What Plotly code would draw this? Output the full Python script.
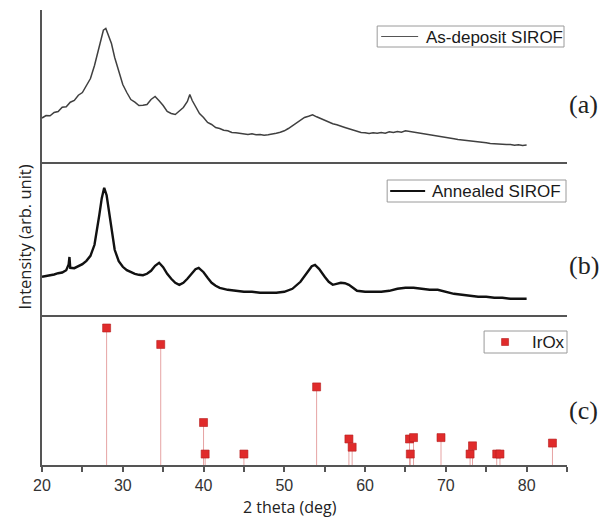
import plotly.graph_objects as go
from plotly.subplots import make_subplots

# ---- XRD data: 2-theta (deg) vs intensity (arb. counts) ----
asdep_theta = [20.0, 20.5, 21.0, 21.5, 22.0, 22.5, 23.0, 23.5, 24.0, 24.5, 25.0, 25.5, 26.0, 26.5,
               27.0, 27.3, 27.6, 27.9, 28.2, 28.6, 29.0, 29.5, 30.0, 30.5, 31.0, 31.5, 32.0, 32.5,
               33.0, 33.5, 34.0, 34.5, 35.0, 35.5, 36.0, 36.5, 37.0, 37.5, 38.0, 38.3, 38.6, 39.0,
               39.5, 40.0, 40.5, 41.0, 41.5, 42.0, 42.5, 43.0, 43.5, 44.0, 44.5, 45.0, 45.5, 46.0,
               46.5, 47.0, 47.5, 48.0, 48.5, 49.0, 49.5, 50.0, 50.5, 51.0, 51.5, 52.0, 52.5, 53.0,
               53.5, 54.0, 54.5, 55.0, 55.5, 56.0, 56.5, 57.0, 57.5, 58.0, 58.5, 59.0, 59.5, 60.0,
               60.5, 61.0, 61.5, 62.0, 62.5, 63.0, 63.5, 64.0, 64.5, 65.0, 65.5, 66.0, 66.5, 67.0,
               67.5, 68.0, 68.5, 69.0, 69.5, 70.0, 70.5, 71.0, 71.5, 72.0, 72.5, 73.0, 73.5, 74.0,
               74.5, 75.0, 75.5, 76.0, 76.5, 77.0, 77.5, 78.0, 78.5, 79.0, 79.5, 80.0]
asdep_counts = [440, 465, 462, 495, 505, 548, 552, 598, 615, 668, 695, 770, 835, 965,
                1115, 1225, 1318, 1335, 1265, 1185, 1045, 905, 775, 695, 625, 598, 565, 568,
                575, 625, 655, 612, 565, 505, 485, 475, 515, 545, 605, 675, 615, 555,
                485, 445, 395, 375, 345, 335, 318, 312, 295, 292, 285, 282, 275, 283,
                272, 275, 268, 272, 278, 288, 298, 312, 335, 362, 385, 418, 445, 458,
                472, 452, 435, 412, 395, 382, 372, 362, 345, 332, 318, 302, 295, 292,
                285, 292, 288, 295, 288, 302, 296, 305, 298, 312, 305, 302, 292, 282,
                276, 272, 262, 255, 246, 242, 238, 232, 226, 222, 215, 212, 204, 202,
                196, 192, 184, 182, 186, 178, 174, 176, 168, 172, 166, 170]

annealed_theta = [20.0, 20.5, 21.0, 21.5, 22.0, 22.5, 23.0, 23.3, 23.4, 23.5, 24.0, 24.5, 25.0,
                  25.5, 26.0, 26.5, 26.8, 27.1, 27.4, 27.7, 28.0, 28.3, 28.6, 29.0, 29.5, 30.0,
                  30.5, 31.0, 31.5, 32.0, 32.5, 33.0, 33.5, 34.0, 34.5, 35.0, 35.5, 36.0, 36.5,
                  37.0, 37.5, 38.0, 38.5, 39.0, 39.4, 40.0, 40.5, 41.0, 41.5, 42.0, 43.0, 44.0,
                  45.0, 46.0, 47.0, 48.0, 49.0, 50.0, 51.0, 52.0, 52.8, 53.4, 53.8, 54.3, 55.0,
                  55.5, 56.0, 56.5, 57.0, 57.5, 58.0, 58.5, 59.0, 60.0, 61.0, 62.0, 63.0, 64.0,
                  65.0, 66.0, 67.0, 68.0, 69.0, 70.0, 71.0, 72.0, 73.0, 74.0, 75.0, 76.0, 77.0,
                  78.0, 79.0, 80.0]
annealed_counts = [382, 388, 398, 405, 418, 425, 448, 505, 580, 472, 468, 492, 508,
                   542, 592, 702, 832, 1002, 1168, 1272, 1198, 1032, 828, 652, 538, 482,
                   448, 428, 412, 402, 398, 412, 442, 492, 522, 478, 412, 362, 322,
                   302, 322, 362, 412, 458, 472, 428, 372, 322, 292, 272, 252, 242,
                   232, 232, 222, 222, 222, 232, 262, 332, 422, 488, 502, 462, 382,
                   332, 302, 312, 322, 318, 302, 272, 242, 232, 232, 232, 242, 262,
                   272, 272, 262, 252, 252, 232, 212, 202, 192, 182, 182, 172, 172,
                   162, 162, 162]

# IrOx reference reflections (relative intensity)
irox_theta = [28.0, 34.7, 40.0, 40.2, 45.0, 54.0, 58.0, 58.4, 65.5, 65.6, 66.0, 69.4,
              73.0, 73.3, 76.3, 76.7, 83.2]
irox_rel = [100, 88, 31, 8, 8, 57, 19, 13, 19, 8, 20, 20, 8, 14, 8, 8, 16]

tick_vals = [20, 30, 40, 50, 60, 70, 80]
tick_text = ["20", "30", "40", "50", "60", "70", "80"]

series_names = ["As-deposit SIROF", "Annealed SIROF", "IrOx"]
panel_labels = ["(a)", "(b)", "(c)"]

AXIS = "#555555"
SANS = "Liberation Sans"
ASDEP_COLOR = "#404040"
ANNEAL_COLOR = "#111111"
IROX_COLOR = "#e02b2b"

W, H = 600, 518
ML, MR, MT, MB = 41.5, 33, 10, 53
PW, PH = W - ML - MR, H - MT - MB


def px(x):
    """pixel column -> paper x"""
    return (x - ML) / PW


def py(y):
    """pixel row -> paper y"""
    return (H - MB - y) / PH


fig = make_subplots(rows=3, cols=1, shared_xaxes=True, vertical_spacing=0)

fig.add_trace(go.Scatter(x=asdep_theta, y=asdep_counts, mode="lines",
                         name=series_names[0], showlegend=False,
                         line=dict(color=ASDEP_COLOR, width=1.5)), row=1, col=1)
fig.add_trace(go.Scatter(x=annealed_theta, y=annealed_counts, mode="lines",
                         name=series_names[1], showlegend=False,
                         line=dict(color=ANNEAL_COLOR, width=2.4)), row=2, col=1)

# stick pattern for reference reflections
stick_x, stick_y = [], []
for t, r in zip(irox_theta, irox_rel):
    stick_x += [t, t, None]
    stick_y += [0, r, None]
fig.add_trace(go.Scatter(x=stick_x, y=stick_y, mode="lines", showlegend=False,
                         line=dict(color="#e6a3a3", width=1), hoverinfo="skip"),
              row=3, col=1)
fig.add_trace(go.Scatter(x=irox_theta, y=irox_rel, mode="markers", name=series_names[2],
                         showlegend=False,
                         marker=dict(symbol="square", size=8, color=IROX_COLOR,
                                     line=dict(color="#b51c1c", width=0.6))),
              row=3, col=1)

# panel heights (top to bottom): a, b, c
fig.update_layout(
    yaxis=dict(domain=[py(162), 1.0], range=[0, 1520]),
    yaxis2=dict(domain=[py(315), py(162)], range=[0, 1530]),
    yaxis3=dict(domain=[0.0, py(315)], range=[0, 109.5]),
)
fig.update_yaxes(showline=True, linecolor=AXIS, linewidth=2, showticklabels=False,
                 ticks="", showgrid=False, zeroline=False)
fig.update_xaxes(range=[20, 85], showline=True, linecolor=AXIS, linewidth=2,
                 showgrid=False, zeroline=False)
fig.update_xaxes(showticklabels=False, ticks="", row=1, col=1)
fig.update_xaxes(showticklabels=False, ticks="", row=2, col=1)
fig.update_xaxes(row=3, col=1, tickmode="array", tickvals=tick_vals, ticktext=tick_text,
                 ticks="outside", ticklen=5, tickwidth=2, tickcolor=AXIS,
                 tickfont=dict(family=SANS, size=16, color="#333333"),
                 minor=dict(dtick=5, tick0=20, ticks="outside", ticklen=5, tickwidth=2,
                            tickcolor=AXIS))

# boxed keys, one per panel
shapes, annotations = [], []
legend_boxes = [
    # (left, top, right, bottom, text x, sample kind)
    (377, 26, 564, 47, 424, "thin"),
    (387, 180, 566, 202, 430, "thick"),
    (484, 331, 567, 353, 530, "square"),
]
for name, (l, t, r, b, tx, kind) in zip(series_names, legend_boxes):
    shapes.append(dict(type="rect", xref="paper", yref="paper",
                       x0=px(l), x1=px(r), y0=py(b), y1=py(t),
                       line=dict(color="#9a9a9a", width=1), fillcolor="white", layer="above"))
    ym = (t + b) / 2
    if kind == "thin":
        shapes.append(dict(type="line", xref="paper", yref="paper", x0=px(381), x1=px(418),
                           y0=py(ym), y1=py(ym), line=dict(color="#555555", width=1),
                           layer="above"))
    elif kind == "thick":
        shapes.append(dict(type="line", xref="paper", yref="paper", x0=px(390), x1=px(425),
                           y0=py(ym), y1=py(ym), line=dict(color=ANNEAL_COLOR, width=2),
                           layer="above"))
    else:
        shapes.append(dict(type="rect", xref="paper", yref="paper",
                           x0=px(501.5), x1=px(508.5), y0=py(ym + 3.5), y1=py(ym - 3.5),
                           fillcolor=IROX_COLOR, line=dict(color="#b51c1c", width=0.6),
                           layer="above"))
    annotations.append(dict(text=name, x=px(tx), y=py(ym + 0.5), xref="paper", yref="paper",
                            showarrow=False, xanchor="left", yanchor="middle",
                            font=dict(family=SANS, size=17, color="#1a1a1a")))

annotations += [
    dict(text="Intensity (arb. unit)", x=px(23), y=py(237), xref="paper", yref="paper",
         textangle=-90, showarrow=False, xanchor="center", yanchor="middle",
         font=dict(family="Open Sans", size=16.5, color="#222222")),
    dict(text="2 theta (deg)", x=px(290), y=py(507), xref="paper", yref="paper",
         showarrow=False, xanchor="center", yanchor="middle",
         font=dict(family="Open Sans", size=16, color="#222222")),
]
for lab, yc in zip(panel_labels, [104, 265, 410]):
    annotations.append(dict(text=lab, x=px(567), y=py(yc), xref="paper", yref="paper",
                            showarrow=False, xanchor="left", yanchor="middle",
                            font=dict(family="Liberation Serif", size=26,
                                      color="#222222")))

fig.update_layout(
    width=W, height=H,
    margin=dict(l=ML, r=MR, t=MT, b=MB),
    paper_bgcolor="white", plot_bgcolor="white",
    shapes=shapes, annotations=annotations,
)

fig.write_html("out.html")
